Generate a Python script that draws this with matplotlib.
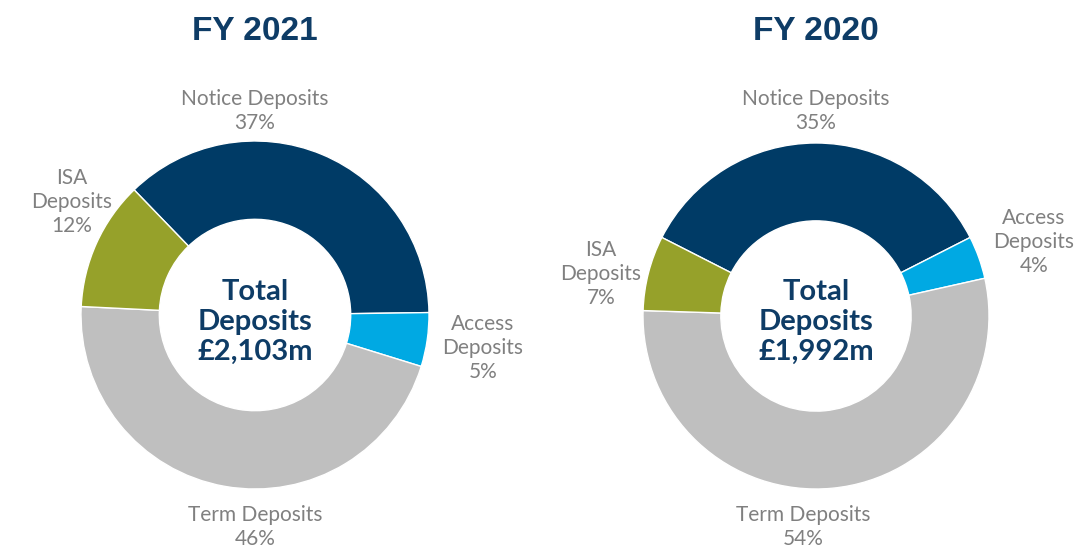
import matplotlib.pyplot as plt

# data
segments = ["Notice Deposits", "Access Deposits", "Term Deposits", "ISA Deposits"]
fy2021 = [37, 5, 46, 12]
fy2020 = [35, 4, 54, 7]
titles = ["FY 2021", "FY 2020"]
totals = ["£2,103m", "£1,992m"]
colors = ["#003B66", "#00A9E3", "#BFBFBF", "#96A12A"]

W, H = 1074, 547
navy = "#0E3C66"
grey = "#808080"

fig = plt.figure(figsize=(W / 100, H / 100), dpi=100)
ax = fig.add_axes([0, 0, 1, 1])


def y(v):
    return H - v


def donut(vals, cx, cy, r, start):
    ax.pie(vals, colors=colors, startangle=start, counterclock=False,
           center=(cx, y(cy)), radius=r, frame=True,
           wedgeprops=dict(width=r * 0.45, edgecolor="white", linewidth=1))


donut(fy2021, 255, 315, 174, 134)
donut(fy2020, 816, 316, 173, 153)
ax.set_xlim(0, W)
ax.set_ylim(0, H)
ax.set_aspect("equal")
ax.axis("off")

lab = dict(ha="center", va="center", color=grey, fontsize=15,
           family="Lato", linespacing=1.25)
ctr = dict(ha="center", va="center", color=navy, fontsize=21,
           family="Lato", fontweight="bold", linespacing=1.2)
ttl = dict(ha="center", va="center", color=navy, fontsize=24,
           family="Liberation Sans", fontweight="bold")

vals = [fy2021, fy2020]
# label anchors (image pixel coords)
pos = [
    {"Notice Deposits": (255, 111), "Access Deposits": (483, 348),
     "Term Deposits": (255, 527), "ISA Deposits": (72, 202)},
    {"Notice Deposits": (816, 111), "Access Deposits": (1034, 242),
     "Term Deposits": (803, 527), "ISA Deposits": (601, 274)},
]
cx = [255, 816]

for i in range(2):
    ax.text(cx[i], y(32), titles[i], **ttl)
    ax.text(cx[i], y(322), "Total\nDeposits\n" + totals[i], **ctr)
    for s, v in zip(segments, vals[i]):
        name = s
        if s in ("Access Deposits", "ISA Deposits"):
            name = s.replace(" ", "\n")
        px, py = pos[i][s]
        ax.text(px, y(py), f"{name}\n{v}%", **lab)

fig.savefig("out.png", dpi=100)
